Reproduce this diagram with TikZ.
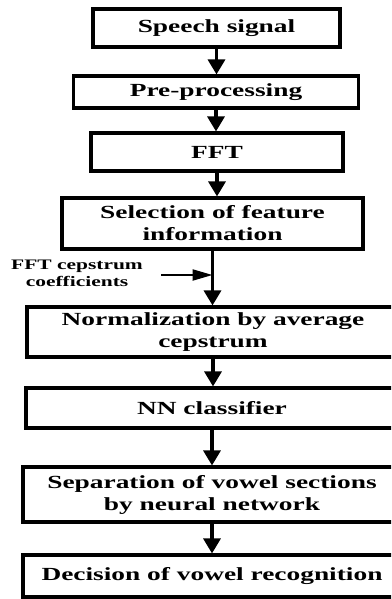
\documentclass[tikz,border=0pt]{standalone}
\usepackage{fontspec}
\setmainfont[FakeStretch=1.48]{Liberation Serif}
\usetikzlibrary{arrows.meta}
\begin{document}
\begin{tikzpicture}[x=1pt,y=-1pt,
  stage/.style={draw, line width=3.1pt, rectangle, inner sep=0pt, align=center,
    font=\fontsize{18.5}{22}\selectfont\bfseries},
  flow/.style={line width=3.2pt, -{Triangle[length=15pt,width=17pt]}},
  feed/.style={line width=2.2pt, -{Triangle[length=20pt,width=11pt]}},
  note/.style={align=center, inner sep=0pt, font=\fontsize{14.5}{17}\selectfont\bfseries}]
\useasboundingbox (0,0) rectangle (391,599);
\clip (0,0) rectangle (391,599);
\node[stage, minimum width=247pt, minimum height=38pt] (s1) at (216.5,28) {Speech signal};
\node[stage, minimum width=285pt, minimum height=32pt] (s2) at (216,92) {Pre-processing};
\node[stage, minimum width=252pt, minimum height=38pt] (s3) at (217,152) {FFT};
\node[stage, minimum width=301pt, minimum height=51pt] (s4) at (212.5,223.5) {Selection of feature\\information};
\node[stage, minimum width=372pt, minimum height=50pt] (s5) at (213,332) {Normalization by average\\cepstrum};
\node[stage, minimum width=372pt, minimum height=40pt] (s6) at (212,408) {NN classifier};
\node[stage, minimum width=378pt, minimum height=55pt] (s7) at (212,494.5) {Separation of vowel sections\\by neural network};
\node[stage, minimum width=378pt, minimum height=42pt] (s8) at (212,576) {Decision of vowel recognition};
\node[note] (lbl) at (77,273) {FFT cepstrum\\coefficients};
\coordinate (cin) at (161,275);
\draw[flow] (s1.south) -- (s1.south |- s2.north);
\draw[flow] (s2.south) -- (s2.south |- s3.north);
\draw[flow] (s3.south) -- (s3.south |- s4.north);
\draw[flow] (s4.south) -- (s4.south |- s5.north);
\draw[flow] (s5.south) -- (s5.south |- s6.north);
\draw[flow] (s6.south) -- (s6.south |- s7.north);
\draw[flow] (s7.south) -- (s7.south |- s8.north);
\draw[feed] (cin) -- (cin -| s4.south);
\end{tikzpicture}
\end{document}
